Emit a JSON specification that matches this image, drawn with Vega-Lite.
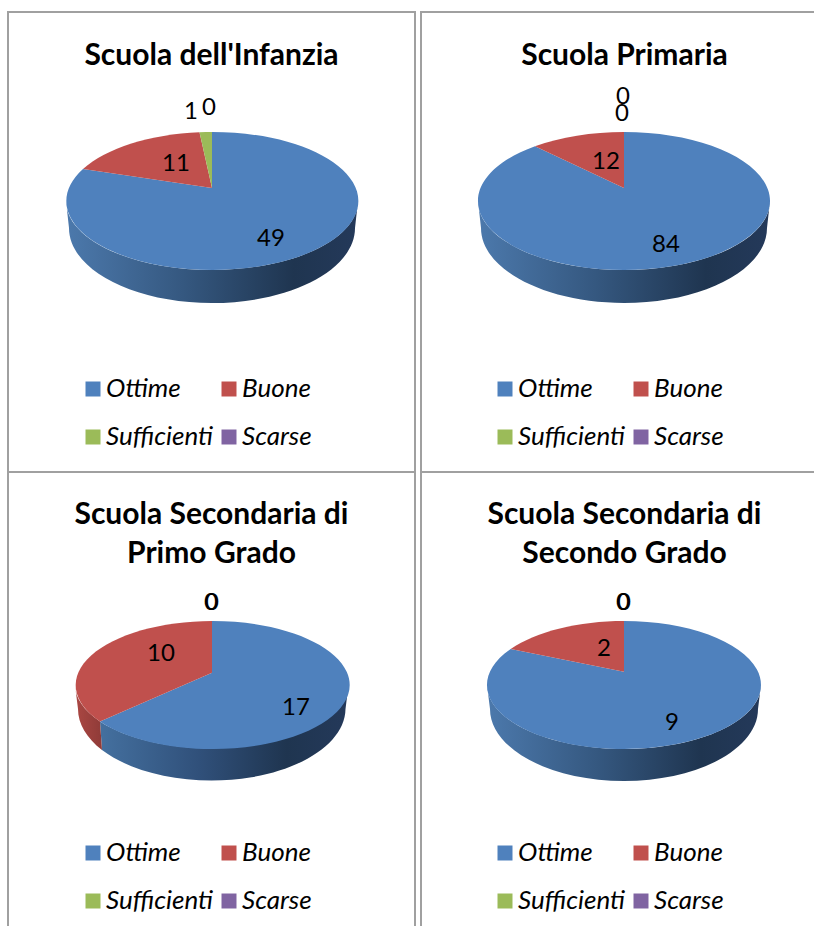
{"$schema":"https://vega.github.io/schema/vega-lite/v6.json","background":"white","padding":{"left":7,"top":11,"right":0,"bottom":0},"bounds":"flush","columns":2,"spacing":{"column":6,"row":0},"config":{"view":{"stroke":"#a0a0a0","strokeWidth":2},"font":"Lato","title":{"font":"Lato","fontWeight":"bold","fontSize":30,"color":"#000000","anchor":"middle","lineHeight":39},"legend":{"orient":"none","columns":2,"direction":"horizontal","gridAlign":"each","symbolType":"square","symbolSize":225,"symbolStrokeWidth":0,"labelFont":"Lato","labelFontStyle":"italic","labelFontSize":26,"labelColor":"#000000","labelOffset":0,"rowPadding":22,"columnPadding":3,"title":null,"labelLimit":200}},"datasets":{"scores":[{"school":"Infanzia","category":"Ottime","order":1,"value":49},{"school":"Infanzia","category":"Buone","order":2,"value":11},{"school":"Infanzia","category":"Sufficienti","order":3,"value":1},{"school":"Infanzia","category":"Scarse","order":4,"value":0},{"school":"Primaria","category":"Ottime","order":1,"value":84},{"school":"Primaria","category":"Buone","order":2,"value":12},{"school":"Primaria","category":"Sufficienti","order":3,"value":0},{"school":"Primaria","category":"Scarse","order":4,"value":0},{"school":"Primo","category":"Ottime","order":1,"value":17},{"school":"Primo","category":"Buone","order":2,"value":10},{"school":"Primo","category":"Sufficienti","order":3,"value":0},{"school":"Primo","category":"Scarse","order":4,"value":0},{"school":"Secondo","category":"Ottime","order":1,"value":9},{"school":"Secondo","category":"Buone","order":2,"value":2},{"school":"Secondo","category":"Sufficienti","order":3,"value":0},{"school":"Secondo","category":"Scarse","order":4,"value":0}]},"concat":[
{"width":407,"height":460,"title":{"text":"Scuola dell'Infanzia","offset":-59},"data":{"name":"scores"},"transform":[{"filter":"datum.school==='Infanzia'"}],"layer":[
{"transform":[{"filter":"datum.category==='Ottime'"}],"mark":{"type":"point","filled":true,"opacity":1,"size":4,"strokeWidth":0,"shape":"M-145.5,-41 A146,69 0 0 0 146.5,-41 L143.5,-14 A143,75 0 0 1 -142.5,-14 Z","fill":{"gradient":"linear","x1":0,"x2":1,"y1":0,"y2":0,"stops":[{"offset":0,"color":"#4c79ac"},{"offset":0.4,"color":"#355880"},{"offset":0.78,"color":"#1f3550"},{"offset":1,"color":"#24395a"}]}}},
{"mark":{"type":"point","filled":true,"opacity":1,"size":4,"strokeWidth":0},"encoding":{"color":{"field":"category","type":"nominal","scale":{"domain":["Ottime","Buone","Sufficienti","Scarse"],"range":["#4f81bd","#c0504d","#9bbb59","#8064a2"]},"legend":{"legendX":72,"legendY":364}},"shape":{"field":"category","type":"nominal","legend":null,"scale":{"domain":["Buone","Ottime","Sufficienti","Scarse"],"range":["M0.5,-54 L-128.5,-73 A146,69 0 0 1 -12,-109.7 Z","M0.5,-54 L0.5,-110 A146,69 0 1 1 -128.5,-73 Z","M0.5,-54 L-12,-109.7 A146,69 0 0 1 0.5,-110 Z","M0,0 Z"]}}}},
{"mark":{"type":"text","font":"Lato","fontSize":24,"color":"#000000"},"encoding":{"text":{"field":"value","type":"quantitative"},"x":{"field":"order","type":"quantitative","axis":null,"scale":{"domain":[1,2,3,4],"range":[263,168,183,201]}},"y":{"field":"order","type":"quantitative","axis":null,"scale":{"domain":[1,2,3,4],"range":[227,152,100,96]}}}}
]},
{"width":407,"height":460,"title":{"text":"Scuola Primaria","offset":-59},"data":{"name":"scores"},"transform":[{"filter":"datum.school==='Primaria'"}],"layer":[
{"transform":[{"filter":"datum.category==='Ottime'"}],"mark":{"type":"point","filled":true,"opacity":1,"size":4,"strokeWidth":0,"shape":"M-146.5,-41 A146,69 0 0 0 145.5,-41 L142.5,-14 A143,75 0 0 1 -143.5,-14 Z","fill":{"gradient":"linear","x1":0,"x2":1,"y1":0,"y2":0,"stops":[{"offset":0,"color":"#4c79ac"},{"offset":0.4,"color":"#355880"},{"offset":0.78,"color":"#1f3550"},{"offset":1,"color":"#24395a"}]}}},
{"mark":{"type":"point","filled":true,"opacity":1,"size":4,"strokeWidth":0},"encoding":{"color":{"field":"category","type":"nominal","scale":{"domain":["Ottime","Buone","Sufficienti","Scarse"],"range":["#4f81bd","#c0504d","#9bbb59","#8064a2"]},"legend":{"legendX":71,"legendY":364}},"shape":{"field":"category","type":"nominal","legend":null,"scale":{"domain":["Buone","Ottime","Sufficienti","Scarse"],"range":["M-0.5,-54 L-89.5,-95.7 A146,69 0 0 1 -0.5,-110 Z","M-0.5,-54 L-0.5,-110 A146,69 0 1 1 -89.5,-95.7 Z","M0,0 Z","M0,0 Z"]}}}},
{"mark":{"type":"text","font":"Lato","fontSize":24,"color":"#000000"},"encoding":{"text":{"field":"value","type":"quantitative"},"x":{"field":"order","type":"quantitative","axis":null,"scale":{"domain":[1,2,3,4],"range":[245,185,201,202]}},"y":{"field":"order","type":"quantitative","axis":null,"scale":{"domain":[1,2,3,4],"range":[233,150,102,85]}}}}
]},
{"width":407,"height":460,"title":{"text":["Scuola Secondaria di","Primo Grado"],"offset":-97},"data":{"name":"scores"},"transform":[{"filter":"datum.school==='Primo'"}],"layer":[
{"transform":[{"filter":"datum.category==='Ottime'"}],"mark":{"type":"point","filled":true,"opacity":1,"size":4,"strokeWidth":0,"shape":"M-111.5,19.4 A137,64 0 0 0 137,-17 L134,7 A134,72 0 0 1 -109.5,48 Z","fill":{"gradient":"linear","x1":0,"x2":1,"y1":0,"y2":0,"stops":[{"offset":0,"color":"#44709f"},{"offset":0.4,"color":"#30507a"},{"offset":0.75,"color":"#1f3550"},{"offset":1,"color":"#24395a"}]}}},
{"transform":[{"filter":"datum.category==='Buone'"}],"mark":{"type":"point","filled":true,"opacity":1,"size":4,"strokeWidth":0,"shape":"M-136.5,-17 A137,64 0 0 0 -111.5,19.4 L-109.5,48 A134,72 0 0 1 -133.5,7 Z","fill":{"gradient":"linear","x1":0,"x2":1,"y1":0,"y2":0,"stops":[{"offset":0,"color":"#ab4743"},{"offset":1,"color":"#8f3b38"}]}}},
{"mark":{"type":"point","filled":true,"opacity":1,"size":4,"strokeWidth":0},"encoding":{"color":{"field":"category","type":"nominal","scale":{"domain":["Ottime","Buone","Sufficienti","Scarse"],"range":["#4f81bd","#c0504d","#9bbb59","#8064a2"]},"legend":{"legendX":72,"legendY":368}},"shape":{"field":"category","type":"nominal","legend":null,"scale":{"domain":["Buone","Ottime","Sufficienti","Scarse"],"range":["M0.5,-29.3 L-111.5,19.4 A137,64 0 0 1 0.5,-81 Z","M0.5,-29.3 L0.5,-81 A137,64 0 1 1 -111.5,19.4 Z","M0,0 Z","M0,0 Z"]}}}},
{"mark":{"type":"text","font":"Lato","fontSize":24,"color":"#000000"},"encoding":{"text":{"field":"value","type":"quantitative"},"x":{"field":"order","type":"quantitative","axis":null,"scale":{"domain":[1,2,3,4],"range":[288,153,203,204]}},"y":{"field":"order","type":"quantitative","axis":null,"scale":{"domain":[1,2,3,4],"range":[236,182,131,131]}}}}
]},
{"width":407,"height":460,"title":{"text":["Scuola Secondaria di","Secondo Grado"],"offset":-97},"data":{"name":"scores"},"transform":[{"filter":"datum.school==='Secondo'"}],"layer":[
{"transform":[{"filter":"datum.category==='Ottime'"}],"mark":{"type":"point","filled":true,"opacity":1,"size":4,"strokeWidth":0,"shape":"M-137.5,-17 A137,64 0 0 0 136.5,-17 L133.5,7 A134,72 0 0 1 -134.5,7 Z","fill":{"gradient":"linear","x1":0,"x2":1,"y1":0,"y2":0,"stops":[{"offset":0,"color":"#4c79ac"},{"offset":0.4,"color":"#355880"},{"offset":0.78,"color":"#1f3550"},{"offset":1,"color":"#24395a"}]}}},
{"mark":{"type":"point","filled":true,"opacity":1,"size":4,"strokeWidth":0},"encoding":{"color":{"field":"category","type":"nominal","scale":{"domain":["Ottime","Buone","Sufficienti","Scarse"],"range":["#4f81bd","#c0504d","#9bbb59","#8064a2"]},"legend":{"legendX":71,"legendY":368}},"shape":{"field":"category","type":"nominal","legend":null,"scale":{"domain":["Buone","Ottime","Sufficienti","Scarse"],"range":["M-0.5,-30.3 L-113.8,-53 A137,64 0 0 1 -0.5,-81 Z","M-0.5,-30.3 L-0.5,-81 A137,64 0 1 1 -113.8,-53 Z","M0,0 Z","M0,0 Z"]}}}},
{"mark":{"type":"text","font":"Lato","fontSize":24,"color":"#000000"},"encoding":{"text":{"field":"value","type":"quantitative"},"x":{"field":"order","type":"quantitative","axis":null,"scale":{"domain":[1,2,3,4],"range":[251,183,202,203]}},"y":{"field":"order","type":"quantitative","axis":null,"scale":{"domain":[1,2,3,4],"range":[251,177,131,131]}}}}
]}
],"resolve":{"scale":{"color":"independent","shape":"independent"}}}
